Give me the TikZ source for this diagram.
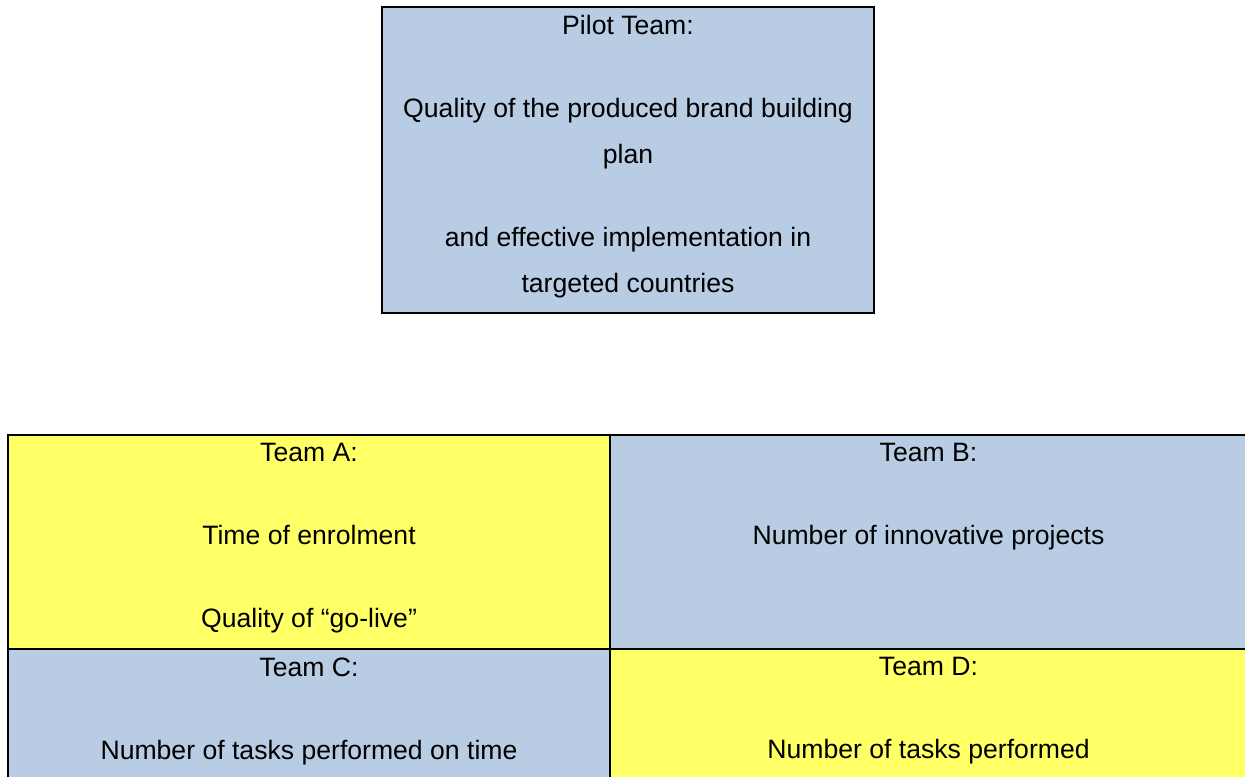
\documentclass[tikz,border=0pt]{standalone}
\usepackage{fontspec}
\setmainfont{Liberation Sans}
\usetikzlibrary{positioning}

\definecolor{teamblue}{HTML}{B8CCE4}
\definecolor{teamyellow}{HTML}{FFFF66}

\begin{document}
\begin{tikzpicture}[x=0.5pt, y=-0.5pt,
    cell/.style={draw, line width=1.1pt, anchor=north west, outer sep=0pt},
    txt/.style={align=center, inner sep=4.25pt, outer sep=0pt, font=\fontsize{13.3}{23}\selectfont}]
    \useasboundingbox (0,0) rectangle (1245,776);
    \clip (0,0) rectangle (1245,776);
    % boxes
    \node[cell, fill=teamblue, minimum width=246pt, minimum height=153pt] (pilot) at (382,7) {};
    \node[cell, fill=teamyellow, minimum width=301pt, minimum height=107pt] (teamA) at (8,435) {};
    \node[cell, fill=teamblue, minimum width=318.5pt, minimum height=107pt] (teamB) at (610,435) {};
    \node[cell, fill=teamblue, minimum width=301pt, minimum height=64.5pt] (teamC) at (8,649) {};
    \node[cell, fill=teamyellow, minimum width=318.5pt, minimum height=64.5pt] (teamD) at (610,649) {};
    % texts
    \node[txt, below=0pt of pilot.north] (pilot_txt) {Pilot Team:\\[18.5pt]
        Quality of the produced brand building\\ plan\\[18.5pt]
        and effective implementation in\\ targeted countries};
    \node[txt, below=0pt of teamA.north] (teamA_txt) {Team A:\\[18.5pt] Time of enrolment\\[18.5pt] Quality of “go-live”};
    \node[txt, below=0pt of teamB.north] (teamB_txt) {Team B:\\[18.5pt] Number of innovative projects};
    \node[txt, below=0pt of teamC.north] (teamC_txt) {Team C:\\[18.5pt] Number of tasks performed on time};
    \node[txt, below=0pt of teamD.north] (teamD_txt) {Team D:\\[18.5pt] Number of tasks performed};
\end{tikzpicture}
\end{document}
